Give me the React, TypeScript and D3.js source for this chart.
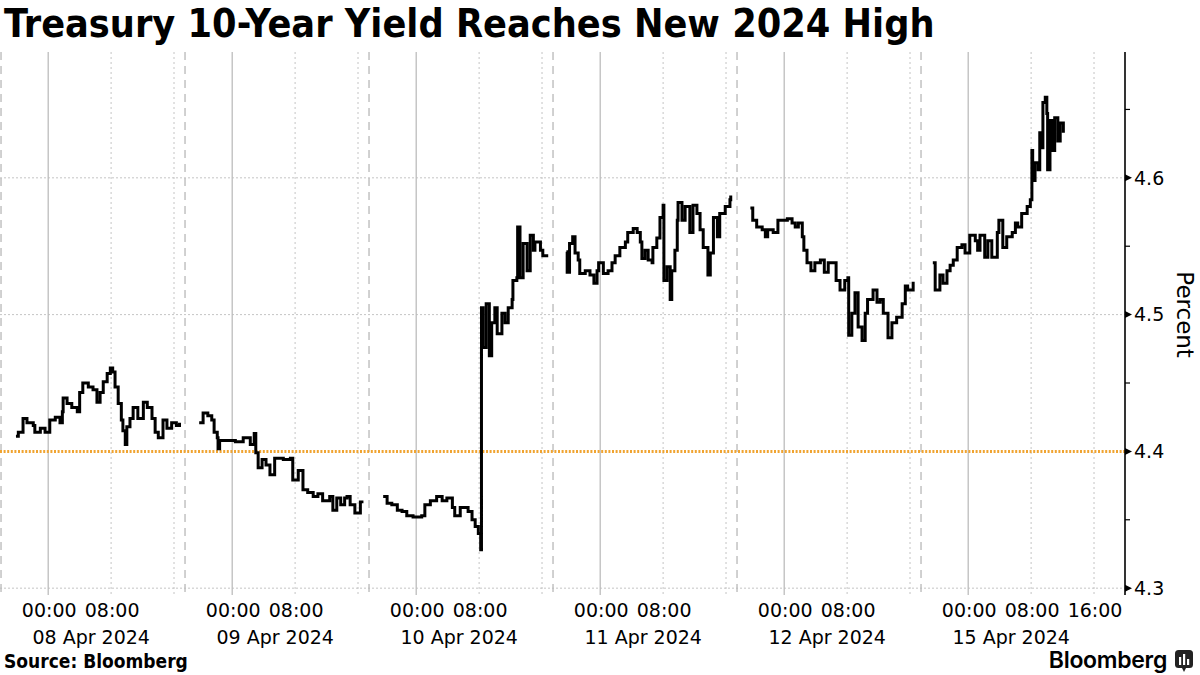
import React from 'react';
import * as d3 from 'd3';

// ---------- DATA ----------
const sessionLabels = ['08 Apr 2024', '09 Apr 2024', '10 Apr 2024', '11 Apr 2024', '12 Apr 2024', '15 Apr 2024'];

// hours relative to midnight of the session date (negative = previous evening)
const apr08Hours = [-4.1, -3.8, -3.2, -2.7, -1.9, -1.7, -1.0, -0.4, 0.2, 0.9, 1.5, 1.8, 1.9, 2.4, 3.0, 3.7, 4.0, 4.4, 5.1, 5.7, 6.2, 6.6, 7.0, 7.5, 7.9, 8.2, 8.5, 8.9, 9.3, 9.5, 9.8, 10.0, 10.4, 10.8, 11.4, 12.1, 12.6, 13.2, 13.6, 14.0, 14.6, 15.1, 15.7, 16.3, 16.7];
const apr08Yield = [4.411, 4.414, 4.424, 4.421, 4.419, 4.414, 4.417, 4.414, 4.423, 4.425, 4.421, 4.429, 4.439, 4.435, 4.432, 4.429, 4.443, 4.450, 4.447, 4.445, 4.436, 4.443, 4.451, 4.457, 4.461, 4.458, 4.447, 4.435, 4.423, 4.415, 4.405, 4.418, 4.424, 4.432, 4.424, 4.436, 4.432, 4.424, 4.414, 4.410, 4.423, 4.417, 4.421, 4.419, 4.421];

const apr09Hours = [-4.2, -3.7, -3.1, -2.6, -2.3, -1.9, -1.8, -1.6, -0.9, 0.4, 1.4, 2.3, 2.8, 3.0, 3.3, 3.8, 4.3, 4.8, 5.4, 6.5, 7.4, 7.7, 8.4, 9.0, 9.6, 10.3, 10.9, 11.5, 12.4, 12.8, 13.3, 13.8, 14.3, 14.6, 15.0, 15.6, 16.3, 16.5];
const apr09Yield = [4.421, 4.428, 4.426, 4.423, 4.414, 4.410, 4.402, 4.408, 4.408, 4.407, 4.410, 4.405, 4.413, 4.399, 4.388, 4.394, 4.390, 4.383, 4.395, 4.394, 4.395, 4.379, 4.386, 4.372, 4.370, 4.367, 4.369, 4.364, 4.367, 4.357, 4.366, 4.361, 4.366, 4.367, 4.361, 4.355, 4.363, 4.362];

const apr10Hours = [-4.2, -3.7, -3.1, -2.4, -1.8, -1.2, -0.4, 0.7, 1.1, 1.8, 2.6, 3.3, 3.9, 4.6, 4.9, 5.6, 6.2, 6.6, 7.1, 7.5, 7.9, 8.2, 8.3, 8.5, 8.9, 9.3, 9.6, 10.0, 10.3, 10.9, 11.3, 11.7, 12.2, 12.3, 12.8, 12.9, 13.2, 13.6, 14.1, 14.5, 14.9, 15.1, 15.8, 16.1, 16.6];
const apr10Yield = [4.367, 4.362, 4.361, 4.357, 4.356, 4.353, 4.352, 4.353, 4.361, 4.364, 4.367, 4.364, 4.366, 4.359, 4.353, 4.359, 4.359, 4.356, 4.350, 4.345, 4.340, 4.328, 4.505, 4.476, 4.508, 4.470, 4.494, 4.505, 4.486, 4.501, 4.494, 4.505, 4.511, 4.525, 4.527, 4.564, 4.527, 4.552, 4.532, 4.558, 4.547, 4.553, 4.547, 4.543, 4.542];

const apr11Hours = [-4.3, -4.2, -3.9, -3.5, -3.2, -2.8, -2.6, -1.9, -1.3, -0.8, -0.4, -0.2, 0.4, 1.0, 1.5, 1.9, 2.5, 3.2, 3.5, 4.2, 4.7, 5.1, 5.3, 5.7, 6.1, 6.6, 6.7, 7.2, 7.6, 8.0, 8.1, 8.5, 8.9, 9.1, 9.5, 9.8, 9.9, 10.4, 10.8, 11.4, 11.8, 12.3, 12.7, 13.1, 13.7, 14.0, 14.4, 14.9, 15.2, 15.9, 16.5, 16.6];
const apr11Yield = [4.546, 4.531, 4.552, 4.557, 4.545, 4.540, 4.530, 4.532, 4.529, 4.523, 4.532, 4.538, 4.530, 4.532, 4.538, 4.543, 4.549, 4.553, 4.560, 4.563, 4.560, 4.553, 4.541, 4.547, 4.540, 4.538, 4.549, 4.556, 4.571, 4.580, 4.525, 4.535, 4.511, 4.532, 4.547, 4.569, 4.582, 4.569, 4.579, 4.560, 4.580, 4.574, 4.562, 4.549, 4.529, 4.545, 4.571, 4.557, 4.574, 4.579, 4.584, 4.587];

const apr12Hours = [-4.3, -4.0, -3.5, -2.8, -2.4, -2.1, -1.4, -0.8, -0.2, 0.4, 1.0, 1.4, 1.8, 2.3, 2.5, 2.9, 3.4, 3.9, 4.6, 5.1, 5.6, 6.2, 6.6, 7.1, 7.7, 8.1, 8.2, 8.6, 9.0, 9.4, 9.9, 10.3, 10.6, 11.3, 11.8, 12.2, 12.6, 13.2, 13.7, 14.3, 15.0, 15.4, 15.7, 16.4];
const apr12Yield = [4.578, 4.569, 4.564, 4.562, 4.557, 4.562, 4.560, 4.569, 4.569, 4.570, 4.567, 4.564, 4.567, 4.557, 4.547, 4.538, 4.532, 4.538, 4.540, 4.531, 4.538, 4.538, 4.525, 4.518, 4.525, 4.527, 4.485, 4.501, 4.516, 4.491, 4.481, 4.501, 4.511, 4.518, 4.509, 4.511, 4.501, 4.483, 4.494, 4.498, 4.508, 4.521, 4.518, 4.524];

const apr15Hours = [-4.5, -4.2, -3.6, -3.2, -2.7, -2.3, -1.9, -1.4, -0.8, -0.4, 0.2, 0.9, 1.2, 1.5, 2.1, 2.5, 3.0, 3.7, 3.9, 4.4, 4.9, 5.6, 6.0, 6.3, 6.8, 7.5, 7.9, 8.1, 8.2, 8.5, 8.9, 9.1, 9.4, 9.5, 9.8, 10.0, 10.1, 10.4, 10.7, 11.0, 11.4, 11.7, 12.1];
const apr15Yield = [4.538, 4.518, 4.529, 4.523, 4.532, 4.536, 4.540, 4.549, 4.551, 4.545, 4.558, 4.554, 4.547, 4.558, 4.542, 4.554, 4.542, 4.560, 4.569, 4.549, 4.557, 4.560, 4.567, 4.564, 4.574, 4.579, 4.584, 4.620, 4.598, 4.611, 4.606, 4.633, 4.622, 4.655, 4.659, 4.647, 4.606, 4.642, 4.620, 4.644, 4.627, 4.640, 4.633];

const sessionHours = [apr08Hours, apr09Hours, apr10Hours, apr11Hours, apr12Hours, apr15Hours];
const sessionYields = [apr08Yield, apr09Yield, apr10Yield, apr11Yield, apr12Yield, apr15Yield];

const yTicks = [4.3, 4.4, 4.5, 4.6];
const yMinorTicks = [4.35, 4.45, 4.55, 4.65];
const referenceLevel = 4.4;
const gridHours = [0, 8, 16];
const labeledHours = ['00:00', '08:00'];
const lastSessionExtraLabel = '16:00';

// ---------- LAYOUT ----------
const W = 1200;
const H = 675;
const plotLeft = 0;
const plotRight = 1125;
const plotTop = 52;
const plotBottom = 595;
const SESSION_LEN = 23.4; // hours per compressed trading session
const SESSION_START = -6; // 18:00 previous day

const toT = (s: number, h: number) => s * SESSION_LEN + (h - SESSION_START);

const x = d3.scaleLinear().domain([-0.13, 142.94]).range([plotLeft, plotRight]);
const y = d3.scaleLinear().domain([4.295, 4.692]).range([plotBottom, plotTop]);

const tickFont = "'DejaVu Sans', Verdana, sans-serif";
const titleFont = "'DejaVu Sans Condensed', 'DejaVu Sans', sans-serif";

export default function App() {
  const line = d3
    .line<[number, number]>()
    .x((d) => x(d[0]))
    .y((d) => y(d[1]))
    .curve(d3.curveStepAfter);

  const paths = sessionHours.map((hrs, s) =>
    line(hrs.map((h, i) => [toT(s, h), sessionYields[s][i]] as [number, number]))
  );

  return (
    <svg
      width={W}
      height={H}
      viewBox={`0 0 ${W} ${H}`}
      style={{ position: 'absolute', left: 0, top: 0, background: '#fff' }}
    >
      <rect x={0} y={0} width={W} height={H} fill="#fff" />
      {/* Title */}
      <text
        x={4}
        y={37}
        fontFamily={titleFont}
        fontWeight="bold"
        fontSize={39.2}
        fill="#000"
        style={{ fontStretch: 'condensed' }}
      >
        Treasury 10-Year Yield Reaches New 2024 High
      </text>

      {/* horizontal grid */}
      {yTicks
        .filter((t) => t !== referenceLevel)
        .map((t) => (
          <line
            key={'hg' + t}
            x1={plotLeft}
            x2={plotRight}
            y1={y(t)}
            y2={y(t)}
            stroke="#c4c4c4"
            strokeWidth={1}
            strokeDasharray="2,2"
          />
        ))}

      {/* vertical grid */}
      {sessionLabels.map((_, s) => (
        <g key={'vg' + s}>
          <line
            x1={x(toT(s, SESSION_START))}
            x2={x(toT(s, SESSION_START))}
            y1={plotTop}
            y2={plotBottom}
            stroke="#b8b8b8"
            strokeWidth={1.3}
            strokeDasharray="8,6"
          />
          {gridHours.map((h) => (
            <line
              key={h}
              x1={x(toT(s, h))}
              x2={x(toT(s, h))}
              y1={plotTop}
              y2={plotBottom}
              stroke={h === 0 ? '#bdbdbd' : '#c4c4c4'}
              strokeWidth={h === 0 ? 1.3 : 1}
              strokeDasharray={h === 0 ? undefined : '2,3'}
            />
          ))}
        </g>
      ))}

      {/* reference line */}
      <line
        x1={plotLeft}
        x2={plotRight}
        y1={y(referenceLevel)}
        y2={y(referenceLevel)}
        stroke="#f0a431"
        strokeWidth={3}
        strokeDasharray="2,1.6"
      />

      {/* data */}
      {paths.map((p, i) => (
        <path key={'p' + i} d={p || ''} fill="none" stroke="#000" strokeWidth={3} strokeLinejoin="miter" />
      ))}

      {/* right axis */}
      <line x1={plotRight} x2={plotRight} y1={plotTop} y2={plotBottom} stroke="#000" strokeWidth={1.6} />
      {yMinorTicks.map((t) => (
        <line key={'mt' + t} x1={plotRight} x2={plotRight + 5} y1={y(t)} y2={y(t)} stroke="#000" strokeWidth={1.2} />
      ))}
      {yTicks.map((t) => (
        <g key={'yt' + t}>
          <path
            d={`M${plotRight},${y(t) - 3.5} L${plotRight + 7},${y(t)} L${plotRight},${y(t) + 3.5} Z`}
            fill="#000"
          />
          <text
            x={plotRight + 9}
            y={y(t)}
            dy="0.36em"
            fontFamily={tickFont}
            fontSize={19}
            fill="#000"
          >
            {d3.format('.1f')(t)}
          </text>
        </g>
      ))}
      <text
        transform={`translate(${1177},${y(4.5)}) rotate(90)`}
        textAnchor="middle"
        fontFamily={tickFont}
        fontSize={23}
        fill="#000"
      >
        Percent
      </text>

      {/* x labels */}
      {sessionLabels.map((lab, s) => {
        const labels = s === sessionLabels.length - 1 ? [...labeledHours, lastSessionExtraLabel] : labeledHours;
        return (
          <g key={'xl' + s}>
            {labels.map((l) => {
              const h = parseInt(l.slice(0, 2), 10);
              return (
                <text
                  key={l}
                  x={x(toT(s, h)) + 1}
                  y={617}
                  textAnchor="middle"
                  fontFamily={tickFont}
                  fontSize={19}
                  fill="#000"
                >
                  {l}
                </text>
              );
            })}
            <text
              x={x(toT(s, 0)) + 43}
              y={644}
              textAnchor="middle"
              fontFamily={tickFont}
              fontSize={19}
              fill="#000"
            >
              {lab}
            </text>
          </g>
        );
      })}

      {/* footer */}
      <text x={4} y={668} fontFamily={titleFont} fontWeight="bold" fontSize={19} fill="#000" style={{ fontStretch: 'condensed' }}>
        Source: Bloomberg
      </text>
      <text x={1167} y={668} textAnchor="end" fontFamily="Inter, 'Open Sans', sans-serif" fontWeight={600} fontSize={23} fill="#000" letterSpacing={-0.3}>
        Bloomberg
      </text>
      <g transform="translate(1175,650)">
        <rect x={0} y={0} width={18} height={18} rx={3.5} fill="#222" />
        <path d="M7,18 L9,22 L11,18 Z" fill="#222" />
        <rect x={4} y={7} width={2.2} height={8} fill="#fff" />
        <rect x={8} y={4} width={2.2} height={11} fill="#fff" />
        <rect x={12} y={9} width={2.2} height={6} fill="#fff" />
      </g>
    </svg>
  );
}
